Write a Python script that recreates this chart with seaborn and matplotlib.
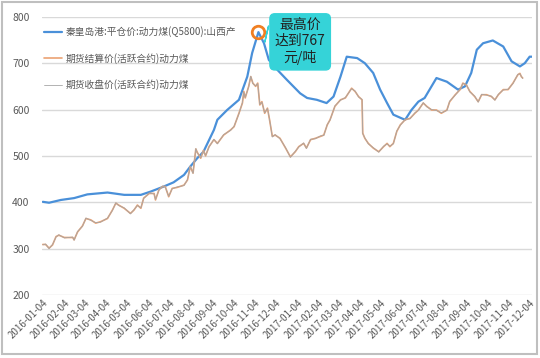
import pandas as pd
import matplotlib
matplotlib.use("Agg")
import matplotlib.pyplot as plt
import seaborn as sns
from matplotlib.patches import Rectangle

# 秦皇岛港:平仓价:动力煤(Q5800):山西产
blue_dates = ["2016-01-04", "2016-01-13", "2016-01-30", "2016-02-18", "2016-03-08", "2016-04-06",
              "2016-04-30", "2016-05-24", "2016-06-07", "2016-06-26", "2016-07-10", "2016-07-25",
              "2016-08-03", "2016-08-13", "2016-08-22", "2016-09-06", "2016-09-11", "2016-09-25",
              "2016-10-12", "2016-10-24", "2016-10-31", "2016-11-09", "2016-11-17", "2016-11-24",
              "2016-12-06", "2016-12-20", "2017-01-08", "2017-01-18", "2017-02-01", "2017-02-15",
              "2017-02-25", "2017-03-07", "2017-03-16", "2017-03-31", "2017-04-11", "2017-04-23",
              "2017-05-03", "2017-05-13", "2017-05-22", "2017-06-03", "2017-06-08", "2017-06-17",
              "2017-06-27", "2017-07-06", "2017-07-23", "2017-08-07", "2017-08-23", "2017-09-02",
              "2017-09-11", "2017-09-19", "2017-09-28", "2017-10-12", "2017-10-27", "2017-11-08",
              "2017-11-20", "2017-11-27", "2017-12-04", "2017-12-08"]
blue_vals = [401, 399, 405, 409, 417, 421, 416, 416, 423, 434,
             443, 459, 477, 495, 509, 556, 578, 599, 621, 671,
             722, 767, 743, 707, 686, 664, 635, 625, 621, 614,
             628, 671, 714, 711, 700, 679, 643, 614, 589, 581,
             578, 599, 617, 625, 668, 660, 643, 650, 679, 729,
             743, 749, 736, 704, 693, 700, 714, 714]

# 期货结算价 / 收盘价 (活跃合约)
fut_dates = ["2016-01-04", "2016-01-08", "2016-01-13", "2016-01-18", "2016-01-23", "2016-01-27",
             "2016-02-04", "2016-02-16", "2016-02-18", "2016-02-23", "2016-03-01", "2016-03-06",
             "2016-03-13", "2016-03-20", "2016-03-27", "2016-04-06", "2016-04-13", "2016-04-18",
             "2016-04-22", "2016-04-30", "2016-05-09", "2016-05-14", "2016-05-19", "2016-05-24",
             "2016-05-28", "2016-06-05", "2016-06-12", "2016-06-14", "2016-06-19", "2016-06-24",
             "2016-06-28", "2016-07-03", "2016-07-08", "2016-07-15", "2016-07-25", "2016-07-30",
             "2016-08-03", "2016-08-07", "2016-08-11", "2016-08-13", "2016-08-18", "2016-08-22",
             "2016-08-25", "2016-08-30", "2016-09-06", "2016-09-11", "2016-09-20", "2016-09-30",
             "2016-10-05", "2016-10-12", "2016-10-17", "2016-10-19", "2016-10-21", "2016-10-26",
             "2016-10-29", "2016-11-01", "2016-11-05", "2016-11-08", "2016-11-11", "2016-11-14",
             "2016-11-18", "2016-11-22", "2016-11-25", "2016-11-29", "2016-12-03", "2016-12-10",
             "2016-12-18", "2016-12-25", "2017-01-01", "2017-01-06", "2017-01-13", "2017-01-17",
             "2017-01-23", "2017-01-30", "2017-02-06", "2017-02-11", "2017-02-16", "2017-02-20",
             "2017-02-27", "2017-03-07", "2017-03-14", "2017-03-23", "2017-03-28", "2017-04-02",
             "2017-04-07", "2017-04-08", "2017-04-11", "2017-04-16", "2017-04-23", "2017-05-01",
             "2017-05-08", "2017-05-13", "2017-05-17", "2017-05-22", "2017-05-27", "2017-06-01",
             "2017-06-08", "2017-06-15", "2017-06-22", "2017-06-27", "2017-07-04", "2017-07-09",
             "2017-07-16", "2017-07-23", "2017-07-30", "2017-08-07", "2017-08-11", "2017-08-19",
             "2017-08-26", "2017-08-30", "2017-09-04", "2017-09-09", "2017-09-16", "2017-09-21",
             "2017-09-26", "2017-10-03", "2017-10-10", "2017-10-15", "2017-10-20", "2017-10-27",
             "2017-11-03", "2017-11-10", "2017-11-17", "2017-11-20", "2017-11-22", "2017-11-24"]
settle_vals = [309, 309, 301, 308, 326, 329, 324, 324, 319, 336, 349, 365,
               362, 355, 358, 365, 383, 398, 394, 387, 376, 383, 394, 387,
               409, 419, 419, 405, 427, 434, 434, 412, 430, 432, 437, 448,
               477, 463, 515, 508, 495, 512, 500, 520, 535, 527, 545, 556,
               563, 592, 614, 639, 625, 650, 671, 657, 650, 657, 610, 617,
               592, 603, 578, 542, 545, 538, 517, 498, 509, 520, 527, 517,
               535, 538, 542, 545, 567, 578, 607, 621, 625, 646, 639, 628,
               621, 549, 538, 527, 517, 509, 520, 527, 520, 527, 553, 567,
               578, 581, 592, 599, 614, 607, 599, 599, 592, 599, 617, 632,
               643, 657, 653, 639, 628, 617, 632, 632, 628, 621, 632, 643,
               643, 657, 675, 678, 671, 668]
close_vals = [308, 310, 300, 309, 325, 330, 323, 325, 318, 337, 348, 366,
              361, 356, 357, 366, 382, 399, 393, 388, 375, 384, 393, 388,
              408, 420, 418, 406, 426, 435, 433, 413, 429, 433, 436, 449,
              478, 462, 516, 507, 496, 511, 501, 519, 536, 526, 546, 555,
              564, 591, 615, 638, 626, 649, 672, 656, 651, 656, 611, 616,
              593, 602, 579, 541, 546, 537, 518, 497, 510, 519, 528, 516,
              536, 537, 543, 544, 568, 577, 608, 620, 626, 645, 640, 627,
              622, 548, 539, 526, 518, 508, 521, 526, 521, 526, 554, 566,
              579, 580, 593, 598, 615, 606, 600, 598, 593, 598, 618, 631,
              644, 656, 654, 638, 629, 616, 633, 631, 629, 620, 633, 642,
              644, 656, 676, 677, 672, 667]

tick_labels = ["2016-01-04", "2016-02-04", "2016-03-04", "2016-04-04", "2016-05-04", "2016-06-04",
               "2016-07-04", "2016-08-04", "2016-09-04", "2016-10-04", "2016-11-04", "2016-12-04",
               "2017-01-04", "2017-02-04", "2017-03-04", "2017-04-04", "2017-05-04", "2017-06-04",
               "2017-07-04", "2017-08-04", "2017-09-04", "2017-10-04", "2017-11-04", "2017-12-04"]

legend_names = ["秦皇岛港:平仓价:动力煤(Q5800):山西产",
                "期货结算价(活跃合约)动力煤",
                "期货收盘价(活跃合约)动力煤"]
peak_date = "2016-11-09"
peak_val = 767

sns.set_theme(style="white")
plt.rcParams["font.family"] = ["Noto Sans CJK SC", "DejaVu Sans"]

fig = plt.figure(figsize=(5.4, 3.58), dpi=100)
ax = fig.add_axes([0.078, 0.176, 0.908, 0.777])

sns.lineplot(x=pd.to_datetime(blue_dates), y=blue_vals, ax=ax, color="#4a90d9",
             lw=1.6, label=legend_names[0])
sns.lineplot(x=pd.to_datetime(fut_dates), y=settle_vals, ax=ax, color="#eba273",
             lw=1.2, label=legend_names[1])
sns.lineplot(x=pd.to_datetime(fut_dates), y=close_vals, ax=ax, color="#a6a6a6",
             lw=0.6, label=legend_names[2])

# 最高点标记
ax.plot(pd.Timestamp(peak_date), peak_val, marker="o", ms=9, mfc="none",
        mec="#f07f22", mew=2, zorder=5)
ax.annotate("最高价\n达到767\n元/吨", xy=(pd.Timestamp(peak_date), peak_val),
            xytext=(pd.Timestamp("2017-01-08"), 746), ha="center", va="center",
            fontsize=10, color="#222222", linespacing=1.15,
            bbox=dict(boxstyle="round,pad=0.35", fc="#35d3d8", ec="#35d3d8"),
            arrowprops=dict(arrowstyle="wedge,tail_width=1.2,shrink_factor=0.6",
                            fc="#35d3d8", ec="#35d3d8", shrinkB=6),
            annotation_clip=False, zorder=6)

ax.set_ylim(200, 800)
ax.set_yticks([200, 300, 400, 500, 600, 700, 800])
ax.set_xlim(pd.Timestamp("2016-01-03"), pd.Timestamp("2017-12-08"))
ax.set_xticks(pd.to_datetime(tick_labels))
ax.set_xticklabels(tick_labels, rotation=45, ha="right", va="top",
                   rotation_mode="anchor", fontsize=7, color="#595959")
for t in ax.get_yticklabels():
    t.set_fontsize(7.5)
    t.set_color("#595959")
ax.tick_params(axis="y", length=0, pad=9)
ax.tick_params(axis="x", length=0, pad=2)
ax.yaxis.grid(True, color="#d9d9d9", lw=1)
ax.xaxis.grid(False)
ax.set_xlabel("")
ax.set_ylabel("")
sns.despine(ax=ax, left=True, bottom=True)

ax.legend(loc="upper left", bbox_to_anchor=(-0.005, 0.98), frameon=False, fontsize=7,
          labelspacing=1.6, handlelength=1.9, handletextpad=0.4, borderaxespad=0.0,
          labelcolor="#595959")

fig.patches.append(Rectangle((0.004, 0.012), 0.99, 0.982, transform=fig.transFigure,
                             fill=False, ec="#bfbfbf", lw=1.5))

fig.savefig("out.png", dpi=100)
